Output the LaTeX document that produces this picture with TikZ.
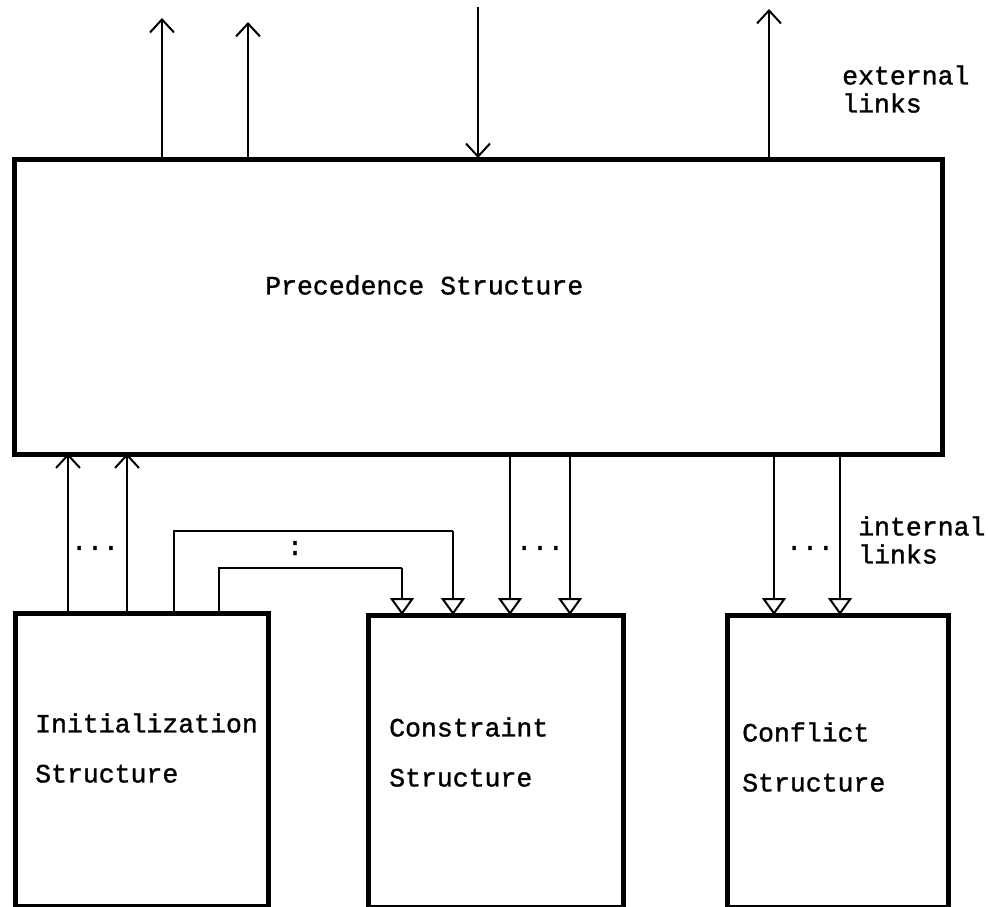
\documentclass[tikz,border=0pt]{standalone}
\usepackage{fontspec}
\setmonofont[FakeBold=1.2]{Liberation Mono}
\usetikzlibrary{arrows.meta}
\begin{document}
\begin{tikzpicture}[x=1pt,y=-1pt,
  box/.style={draw,line width=4.5pt,anchor=north west,inner sep=0pt},
  lbl/.style={font=\ttfamily\fontsize{26.5}{28}\selectfont,inner sep=0pt,align=left},
  blbl/.style={font=\ttfamily\fontsize{26.5}{50}\selectfont,inner sep=0pt,align=left,anchor=west},
  ext/.style={line width=1.8pt,-{Straight Barb[length=13pt,width=24pt,line width=2pt]}},
  intl/.style={line width=1.6pt,-{Triangle[open,length=17pt,width=24pt,line width=2pt]}},
  wire/.style={line width=1.6pt}]
\useasboundingbox (0,0) rectangle (988,907);
\node[box,minimum width=928pt,minimum height=295pt] (prec) at (12,157) {};
\node[box,minimum width=253pt,minimum height=293pt] (init) at (13,611) {};
\node[box,minimum width=255pt,minimum height=292pt] (constr) at (366,613) {};
\node[box,minimum width=221pt,minimum height=292pt] (conf) at (725,613) {};
\node[lbl,anchor=west] (ptxt) at (265,285) {Precedence Structure};
\node[blbl] (itxt) at (35,748) {Initialization\\Structure};
\node[blbl] (ctxt) at (389,752) {Constraint\\Structure};
\node[blbl] (ftxt) at (742,757) {Conflict\\Structure};
% external links
\coordinate (e1) at (162,18);
\coordinate (e2) at (248,22);
\coordinate (e3) at (478,7);
\coordinate (e4) at (769,9);
\draw[ext] (prec.north -| e1) -- (e1);
\draw[ext] (prec.north -| e2) -- (e2);
\draw[ext] (e3) -- ([yshift=-1pt]prec.north -| e3);
\draw[ext] (prec.north -| e4) -- (e4);
\node[lbl,anchor=west] (etxt) at (842,89) {external\\links};
% internal links
\coordinate (u1) at (68,0);
\coordinate (u2) at (127,0);
\draw[ext] (init.north -| u1) -- ([yshift=3pt]prec.south -| u1);
\draw[ext] (init.north -| u2) -- ([yshift=3pt]prec.south -| u2);
\node[lbl] (d1) at (95,548) {...};
\coordinate (a1) at (174,531);
\coordinate (a2) at (453,531);
\coordinate (b1) at (219,568);
\coordinate (b2) at (402,568);
\draw[wire] (init.north -| a1) -- (a1) -- (a2);
\draw[intl] (a2) -- ([yshift=-2pt]constr.north -| a2);
\draw[wire] (init.north -| b1) -- (b1) -- (b2);
\draw[intl] (b2) -- ([yshift=-2pt]constr.north -| b2);
\node[lbl] (d2) at (295,548) {:};
\coordinate (c1) at (510,0);
\coordinate (c2) at (570,0);
\draw[intl] (prec.south -| c1) -- ([yshift=-2pt]constr.north -| c1);
\draw[intl] (prec.south -| c2) -- ([yshift=-2pt]constr.north -| c2);
\node[lbl] (d3) at (540,548) {...};
\coordinate (f1) at (774,0);
\coordinate (f2) at (840,0);
\draw[intl] (prec.south -| f1) -- ([yshift=-2pt]conf.north -| f1);
\draw[intl] (prec.south -| f2) -- ([yshift=-2pt]conf.north -| f2);
\node[lbl] (d4) at (810,548) {...};
\node[lbl,anchor=west] (itl) at (858,540) {internal\\links};
\end{tikzpicture}
\end{document}
